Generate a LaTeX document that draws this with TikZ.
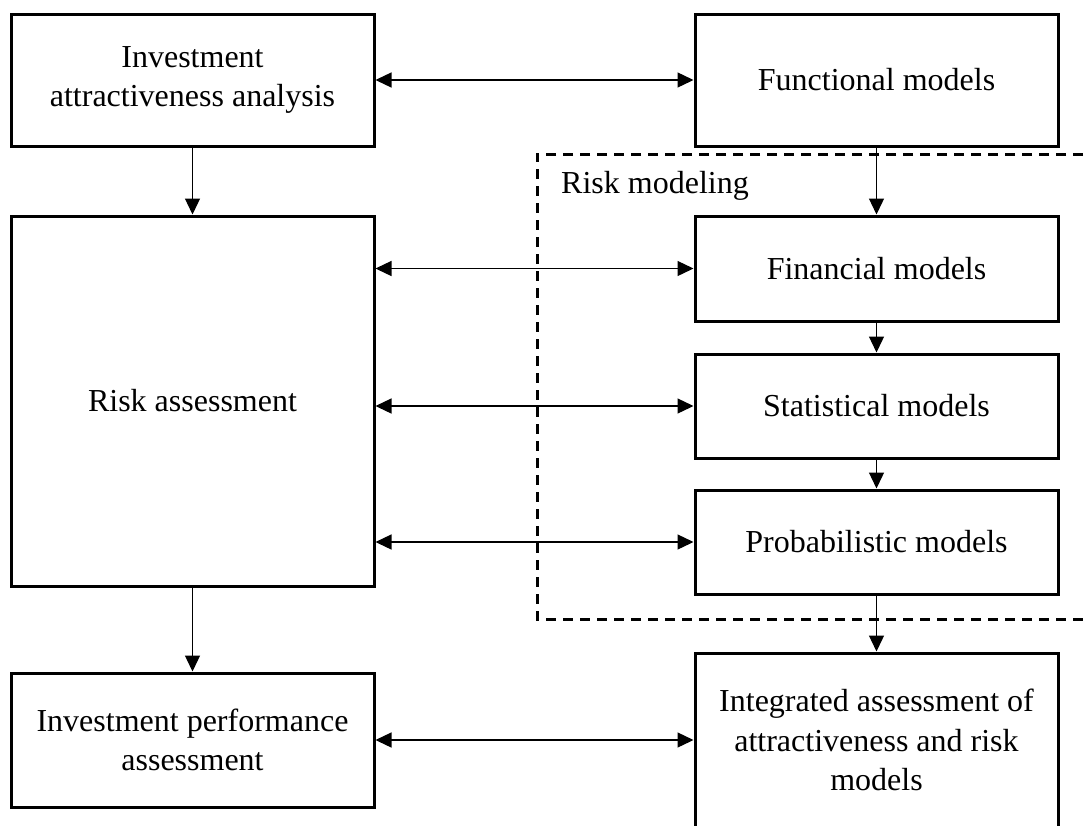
\documentclass[tikz,border=0pt]{standalone}
\usepackage{fontspec}
\setmainfont{Liberation Serif}
\usetikzlibrary{arrows.meta}

\tikzset{
  box/.style={draw,line width=3pt,minimum width=363pt,inner sep=0pt,align=center},
  link/.style={line width=1.3pt,-{Triangle[length=16pt,width=15pt]}},
  twolink/.style={line width=1.3pt,{Triangle[length=16pt,width=15pt]}-{Triangle[length=16pt,width=15pt]}}
}

\begin{document}
\begin{tikzpicture}[x=1pt,y=-1pt,font=\fontsize{32}{39.5}\selectfont]
\useasboundingbox (0,0) rectangle (1086,825);
\clip (0,0) rectangle (1086,825);

% left column
\node[box,minimum height=132pt] (attr) at (192.5,80) {Investment\\attractiveness analysis};
\node[box,minimum height=370pt] (risk) at (192.5,401) {Risk assessment};
\node[box,minimum height=134pt] (perf) at (192.5,740) {Investment performance\\assessment};

% right column
\node[box,minimum height=132pt] (func) at (876.5,80) {Functional models};
\node[box,minimum height=105pt] (fin) at (876.5,268.5) {Financial models};
\node[box,minimum height=104pt] (stat) at (876.5,406) {Statistical models};
\node[box,minimum height=104pt] (prob) at (876.5,542) {Probabilistic models};
\node[box,minimum height=174pt] (integ) at (876.5,740) {Integrated assessment of\\attractiveness and risk\\models};

% risk modeling frame
\draw[line width=3pt,dash pattern=on 10pt off 7pt] (1100,154) -- (537,154) -- (537,619) -- (1100,619);
\node[anchor=base west,inner sep=0pt] (rmlabel) at (561,193) {Risk modeling};

% vertical links
\draw[link] (attr) -- (risk);
\draw[link] (risk) -- (perf);
\draw[link] (func) -- (fin);
\draw[link] (fin) -- (stat);
\draw[link] (stat) -- (prob);
\draw[link] (prob) -- (integ);

% horizontal links
\draw[twolink] (attr.east) -- (func.west);
\draw[twolink] (risk.east |- fin.west) -- (fin.west);
\draw[twolink] (risk.east |- stat.west) -- (stat.west);
\draw[twolink] (risk.east |- prob.west) -- (prob.west);
\draw[twolink] (perf.east) -- (integ.west);

\end{tikzpicture}
\end{document}
